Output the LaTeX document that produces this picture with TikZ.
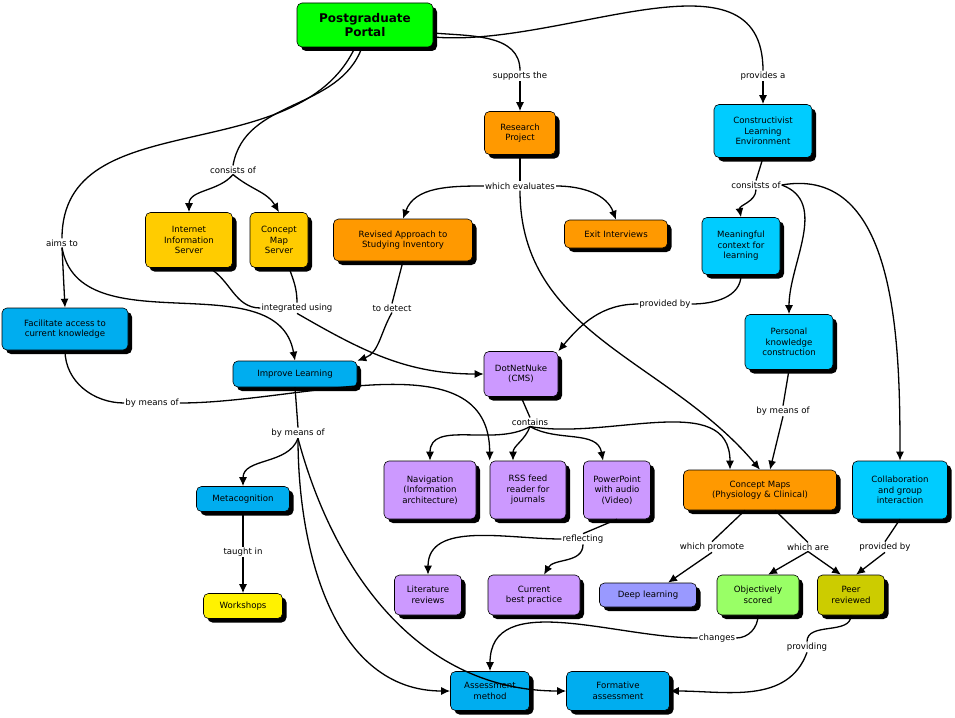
\documentclass[tikz,border=0pt]{standalone}
\usepackage{fontspec}
\setmainfont{DejaVu Sans}
\usetikzlibrary{shadows,arrows.meta}
\begin{document}
\begin{tikzpicture}[x=1pt,y=1pt,
 c/.style={draw=black,line width=0.6pt,rounded corners=5pt,align=center,font=\fontsize{8.6}{10.5}\selectfont,inner sep=2pt,
   drop shadow={shadow xshift=4pt,shadow yshift=-4pt,opacity=1,fill=black}},
 l/.style={fill=white,inner sep=1pt,font=\fontsize{8.6}{10}\selectfont},
 e/.style={line width=1.3pt},
 a/.style={line width=1.3pt,-{Latex[length=9pt,width=8pt]}}]
\useasboundingbox (0,0) rectangle (955,-717);
\definecolor{org}{HTML}{FF9900}\definecolor{sky}{HTML}{00CCFF}\definecolor{gold}{HTML}{FFCC00}
\definecolor{pur}{HTML}{CC99FF}
% concepts
\node[c,fill=green,minimum width=136,minimum height=44,font=\bfseries\fontsize{12}{14}\selectfont] (pp) at (365,-25) {Postgraduate\\Portal};
\node[c,fill=org,minimum width=71,minimum height=43] (rp) at (520,-133) {Research\\Project};
\node[c,fill=sky,minimum width=98,minimum height=53] (cle) at (763,-131) {Constructivist\\Learning\\Environment};
\node[c,fill=gold,minimum width=87,minimum height=55] (iis) at (189,-240) {Internet\\Information\\Server};
\node[c,fill=gold,minimum width=58,minimum height=55] (cms) at (279,-240) {Concept\\Map\\Server};
\node[c,fill=org,minimum width=139,minimum height=42] (rasi) at (403,-240) {Revised Approach to\\Studying Inventory};
\node[c,fill=org,minimum width=103,minimum height=28] (exit) at (616,-234) {Exit Interviews};
\node[c,fill=sky,minimum width=78,minimum height=57] (mc) at (741,-246) {Meaningful\\context for\\learning};
\node[c,fill=cyan,minimum width=126,minimum height=42] (fa) at (65,-329) {Facilitate access to\\current knowledge};
\node[c,fill=sky,minimum width=88,minimum height=55] (pk) at (789,-342) {Personal\\knowledge\\construction};
\node[c,fill=cyan,minimum width=124,minimum height=26] (il) at (295,-374) {Improve Learning};
\node[c,fill=pur,minimum width=74,minimum height=45] (dnn) at (521,-374) {DotNetNuke\\(CMS)};
\node[c,fill=pur,minimum width=92,minimum height=58] (nav) at (430,-490) {Navigation\\(Information\\architecture)};
\node[c,fill=pur,minimum width=76,minimum height=58] (rss) at (528,-490) {RSS feed\\reader for\\journals};
\node[c,fill=pur,minimum width=67,minimum height=58] (ppt) at (617,-490) {PowerPoint\\with audio\\(Video)};
\node[c,fill=org,minimum width=153,minimum height=40] (cmp) at (760,-490) {Concept Maps\\(Physiology \& Clinical)};
\node[c,fill=sky,minimum width=95,minimum height=58] (col) at (900,-490) {Collaboration\\and group\\interaction};
\node[c,fill=cyan,minimum width=93,minimum height=25] (meta) at (243,-499) {Metacognition};
\node[c,fill=pur,minimum width=67,minimum height=40] (lit) at (428,-595) {Literature\\reviews};
\node[c,fill=pur,minimum width=92,minimum height=40] (cbp) at (534,-595) {Current\\best practice};
\node[c,fill={rgb,255:red,153;green,153;blue,255},minimum width=97,minimum height=24] (deep) at (648,-595) {Deep learning};
\node[c,fill={rgb,255:red,153;green,255;blue,102},minimum width=82,minimum height=40] (obj) at (758,-595) {Objectively\\scored};
\node[c,fill={rgb,255:red,204;green,204;blue,0},minimum width=67,minimum height=40] (peer) at (851,-595) {Peer\\reviewed};
\node[c,fill=yellow,minimum width=79,minimum height=25] (ws) at (243,-606) {Workshops};
\node[c,fill=cyan,minimum width=79,minimum height=39] (am) at (490,-691) {Assessment\\method};
\node[c,fill=cyan,minimum width=103,minimum height=39] (fas) at (618,-691) {Formative\\assessment};
% link labels
\node[l] (l1) at (520,-76) {supports the};
\node[l] (l2) at (763,-76) {provides a};
\node[l] (l3) at (233,-170) {consists of};
\node[l] (l4) at (520,-186) {which evaluates};
\node[l] (l5) at (756,-185) {consitsts of};
\node[l] (l6) at (62,-243) {aims to};
\node[l] (l7) at (297,-308) {integrated using};
\node[l] (l8) at (392,-308) {to detect};
\node[l] (l9) at (665,-304) {provided by};
\node[l] (l10) at (152,-403) {by means of};
\node[l] (l11) at (298,-433) {by means of};
\node[l] (l12) at (530,-422) {contains};
\node[l] (l13) at (783,-411) {by means of};
\node[l] (l14) at (243,-552) {taught in};
\node[l] (l15) at (583,-539) {reflecting};
\node[l] (l16) at (712,-547) {which promote};
\node[l] (l17) at (808,-547) {which are};
\node[l] (l18) at (885,-547) {provided by};
\node[l] (l19) at (717,-638) {changes};
\node[l] (l20) at (807,-647) {providing};
% connectors
\begin{scope}[on background layer/.style={}]
\end{scope}
\draw[e] (pp.east) ++(0,-8) coordinate (p1) (p1) to[out=-5,in=90] (l1.north);
\draw[a] (l1.south) -- (rp.north);
\draw[e] (p1) ++(0,-4) coordinate (p2) (p2) to[out=-5,in=90] (l2.north);
\draw[a] (l2.south) -- (cle.north);
\draw[e] (pp.south) ++(-3,0) coordinate (p3) (p3) to[out=-110,in=80] (l3.north);
\draw[a] (l3.south) to[out=-130,in=90] (iis.north);
\draw[a] (l3.south) to[out=-40,in=120] (cms.north);
\draw[e] (pp.south) ++(-10,0) coordinate (p4) (p4) to[out=-115,in=90] (l6.north);
\draw[a] (l6.south) -- (fa.north);
\draw[a] (l6.south) to[out=-80,in=100] (il.north);
\draw[e] (rp.south) -- (l4.north);
\draw[a] (l4.west) to[out=180,in=70] (rasi.north);
\draw[a] (l4.east) to[out=0,in=110] (exit.north);
\draw[a] (l4.south) to[out=-90,in=130] (cmp.north);
\draw[e] (cle.south) -- (l5.north);
\draw[a] (l5.south) to[out=-90,in=100] (mc.north);
\draw[a] (l5.east) to[out=-20,in=90] (pk.north);
\draw[a] (l5.east) to[out=10,in=90] (col.north);
\draw[e] (iis.south) ++(20,0) coordinate (p5) (p5) to[out=-30,in=180] (l7.west);
\draw[e] (cms.south) ++(10,0) coordinate (p6) (p6) to[out=-70,in=90] (l7.north);
\draw[a] (l7.south) to[out=-30,in=180] (dnn.west);
\draw[e] (rasi.south) -- (l8.north);
\draw[a] (l8.south) to[out=-120,in=20] (il.north east);
\draw[e] (mc.south) to[out=-90,in=0] (l9.east);
\draw[a] (l9.west) to[out=180,in=50] (dnn.north east);
\draw[e] (fa.south) to[out=-90,in=180] (l10.west);
\draw[a] (l10.east) to[out=0,in=90] (rss.north west);
\draw[e] (il.south) -- (l11.north);
\draw[a] (l11.south) to[out=-110,in=90] (meta.north);
\draw[a] (l11.south) to[out=-90,in=180] (am.west);
\draw[a] (l11.south) to[out=-75,in=180] (fas.west);
\draw[e] (dnn.south) -- (l12.north);
\draw[a] (l12.south) to[out=-150,in=90] (nav.north);
\draw[a] (l12.south) to[out=-110,in=90] ([xshift=-15pt]rss.north);
\draw[a] (l12.south) to[out=-30,in=100] ([xshift=-14pt]ppt.north);
\draw[a] (l12.south) to[out=-10,in=90] ([xshift=-30pt]cmp.north);
\draw[e] (pk.south) -- (l13.north);
\draw[a] (l13.south) -- ([xshift=10pt]cmp.north);
\draw[e] (meta.south) -- (l14.north);
\draw[a] (l14.south) -- (ws.north);
\draw[e] (ppt.south) -- (l15.north);
\draw[a] (l15.west) to[out=180,in=90] (lit.north);
\draw[a] (l15.south) to[out=-90,in=60] ([xshift=10pt]cbp.north);
\draw[e] (cmp.south) ++(-15,0) coordinate (p7) (p7) -- (l16.north);
\draw[a] (l16.south) -- ([xshift=20pt]deep.north);
\draw[e] (cmp.south) ++(15,0) coordinate (p8) (p8) -- (l17.north);
\draw[a] (l17.south) -- ([xshift=10pt]obj.north);
\draw[a] (l17.south) -- ([xshift=-10pt]peer.north);
\draw[e] (col.south) -- (l18.north);
\draw[a] (l18.south) -- ([xshift=5pt]peer.north);
\draw[e] (obj.south) to[out=-90,in=0] (l19.east);
\draw[a] (l19.west) to[out=180,in=90] (am.north);
\draw[e] (peer.south) to[out=-90,in=90] (l20.north);
\draw[a] (l20.south) to[out=-110,in=0] (fas.east);
\end{tikzpicture}
\end{document}
